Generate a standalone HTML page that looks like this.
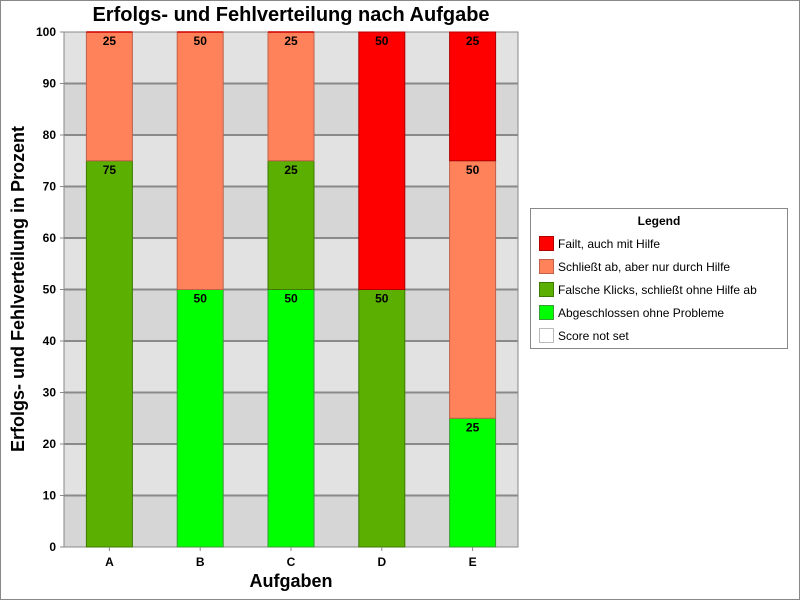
<!DOCTYPE html>
<html><head><meta charset="utf-8"><style>
body{margin:0;background:#fff;font-family:"Liberation Sans",sans-serif}
#wrap{position:relative;width:798px;height:598px;border:1px solid #888}
</style></head><body>
<div id="wrap">
<svg id="chart" width="798" height="598" xmlns="http://www.w3.org/2000/svg"></svg>
</div>
<script>
const categories=["A","B","C","D","E"];
const seriesNames=["Abgeschlossen ohne Probleme","Falsche Klicks, schließt ohne Hilfe ab","Schließt ab, aber nur durch Hilfe","Failt, auch mit Hilfe"];
const seriesColors=["#00ff00","#5aaf00","#ff825a","#ff0000"];
const seriesBorders=["#3a9a3a","#3d7a00","#c0604a","#b00000"];
const okValues=[0,50,50,0,25];
const klickValues=[75,0,25,50,0];
const hilfeValues=[25,50,25,0,50];
const failValues=[0,0,0,50,25];
const yTicks=[0,10,20,30,40,50,60,70,80,90,100];
const series=[okValues,klickValues,hilfeValues,failValues];
const NS="http://www.w3.org/2000/svg";
const svg=document.getElementById('chart');
const X0=63,X1=517,Y0=546,Y1=31;
const y=v=>Y0-(v/100)*(Y0-Y1);
const band=(X1-X0)/categories.length;
const xc=i=>X0+band*(i+0.5);
const BW=46;
function mk(t,a,txt){const e=document.createElementNS(NS,t);for(const k in a)e.setAttribute(k,a[k]);if(txt!==undefined)e.textContent=txt;svg.appendChild(e);return e;}
let e;
e=mk('rect',{x:X0,y:Y1,width:X1-X0,height:Y0-Y1,fill:'#e2e2e2'});


for(let i=0;i<yTicks.length-1;i++){
  if(i%2===0){
    e=mk('rect',{x:X0,y:y(yTicks[i+1]),width:X1-X0,height:y(yTicks[i])-y(yTicks[i+1]),fill:'#d6d6d6'});
    
    
  }
}
yTicks.forEach(t=>{
  if(t>0&&t<100){
    e=mk('line',{x1:X0,x2:X1,y1:y(t),y2:y(t),stroke:'#8a8a8a','stroke-width':2});
    
    
  }
  e=mk('line',{x1:X0-4,x2:X0,y1:y(t),y2:y(t),stroke:'#888'});
  
  
  e=mk('text',{x:X0-8,y:y(t)+4,'text-anchor':'end','font-size':12,'font-weight':'bold'},t);
  
  
});
e=mk('rect',{x:X0,y:Y1,width:X1-X0,height:Y0-Y1,fill:'none',stroke:'#888'});


categories.forEach((c,i)=>{
  let acc=0;
  series.forEach((s,si)=>{
    const v=s[i];
    const top=y(acc+v),bot=y(acc);
    if(v>0){
      e=mk('rect',{x:xc(i)-BW/2,y:top,width:BW,height:bot-top,fill:seriesColors[si],stroke:seriesBorders[si],'stroke-width':1});
      
      
      e=mk('text',{x:xc(i),y:top+13,'text-anchor':'middle','font-size':12,'font-weight':'bold'},v);
      
      
    } else if(si===3){
      e=mk('line',{x1:xc(i)-BW/2,x2:xc(i)+BW/2,y1:top,y2:top,stroke:'#cc0000','stroke-width':1.5});
      
      
    }
    acc+=v;
  });
  e=mk('line',{x1:xc(i),x2:xc(i),y1:Y0,y2:Y0+4,stroke:'#888'});
  
  
  e=mk('text',{x:xc(i),y:Y0+19,'text-anchor':'middle','font-size':12,'font-weight':'bold'},c);
  
  
});
e=mk('text',{x:290,y:20,'text-anchor':'middle','font-size':20,'font-weight':'bold'},'Erfolgs- und Fehlverteilung nach Aufgabe');


e=mk('text',{x:290,y:586,'text-anchor':'middle','font-size':18,'font-weight':'bold'},'Aufgaben');


e=mk('text',{x:0,y:0,'text-anchor':'middle','font-size':18,'font-weight':'bold',transform:'translate(23,288) rotate(-90)'},'Erfolgs- und Fehlverteilung in Prozent');


e=mk('rect',{x:529.5,y:207.5,width:257,height:140,fill:'#fff',stroke:'#888'});


e=mk('text',{x:658,y:224,'text-anchor':'middle','font-size':12,'font-weight':'bold'},'Legend');


const legOrder=[3,2,1,0];
const legItems=legOrder.map(i=>[seriesNames[i],seriesColors[i],seriesBorders[i]]).concat([["Score not set","#fff","#bbb"]]);
legItems.forEach((it,k)=>{
  const ly=235+k*23;
  e=mk('rect',{x:538.5,y:ly+0.5,width:14,height:14,fill:it[1],stroke:it[2]});
  
  
  e=mk('text',{x:557,y:ly+12,'font-size':12},it[0]);
  
  
});
</script>
</body></html>
